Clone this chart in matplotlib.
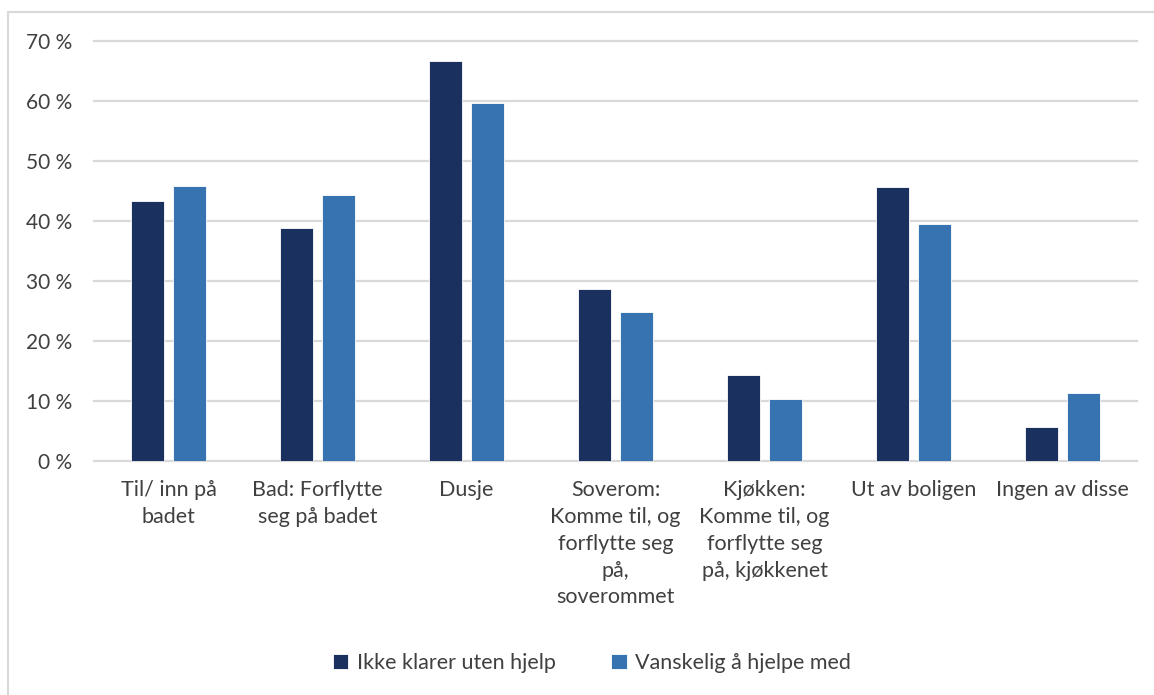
import numpy as np
import matplotlib.pyplot as plt
from matplotlib.patches import Rectangle

plt.rcParams['font.family'] = ['Lato', 'DejaVu Sans']

categories = ['Til/ inn på\nbadet',
              'Bad: Forflytte\nseg på badet',
              'Dusje',
              'Soverom:\nKomme til, og\nforflytte seg\npå,\nsoverommet',
              'Kjøkken:\nKomme til, og\nforflytte seg\npå, kjøkkenet',
              'Ut av boligen',
              'Ingen av disse']
ikke_klarer = [43.3, 38.8, 66.7, 28.6, 14.3, 45.7, 5.7]
vanskelig = [45.9, 44.3, 59.7, 24.9, 10.4, 39.5, 11.3]
series_names = ['Ikke klarer uten hjelp', 'Vanskelig å hjelpe med']
yticks = [0, 10, 20, 30, 40, 50, 60, 70]

dark = '#1a305e'
light = '#3873b1'
txt = '#404040'

fig = plt.figure(figsize=(11.54, 6.95), dpi=100)
# light frame round the chart area
fig.patches.append(Rectangle((8 / 1154, -0.05), 1.2, 1 - 12 / 695 + 0.05,
                             transform=fig.transFigure, fill=False,
                             edgecolor='#d9d9d9', lw=1.5))

ax = fig.add_axes([94 / 1154, 1 - 461 / 695, (1137 - 94) / 1154, 420 / 695])
x = np.arange(len(categories))
w = 0.222
off = 0.144
ax.bar(x - off, ikke_klarer, w, color=dark, edgecolor='white', lw=0.6,
       label=series_names[0], zorder=3)
ax.bar(x + off, vanskelig, w, color=light, edgecolor='white', lw=0.6,
       label=series_names[1], zorder=3)

ax.set_xlim(-0.5, len(categories) - 0.5)
ax.set_ylim(0, 70)
ax.set_yticks(yticks)
ax.set_yticklabels(['%d %%' % t for t in yticks], color=txt, fontsize=15)
ax.set_xticks(x)
ax.set_xticklabels(categories, color=txt, fontsize=15.5, linespacing=1.42,
                   va='top')
ax.tick_params(axis='both', length=0)
ax.tick_params(axis='y', pad=16)
ax.tick_params(axis='x', pad=14)
ax.grid(axis='y', color='#d9d9d9', lw=1.6, zorder=0)
for g in ax.get_ygridlines():
    g.set_clip_on(False)
for s in ax.spines.values():
    s.set_visible(False)

fig.legend(loc='center', bbox_to_anchor=(0.513, 0.046), ncol=2, frameon=False,
           fontsize=15.5, labelcolor=txt, handlelength=0.7, handleheight=0.7,
           handletextpad=0.4, columnspacing=2.6)

fig.savefig('out.png', dpi=100)
